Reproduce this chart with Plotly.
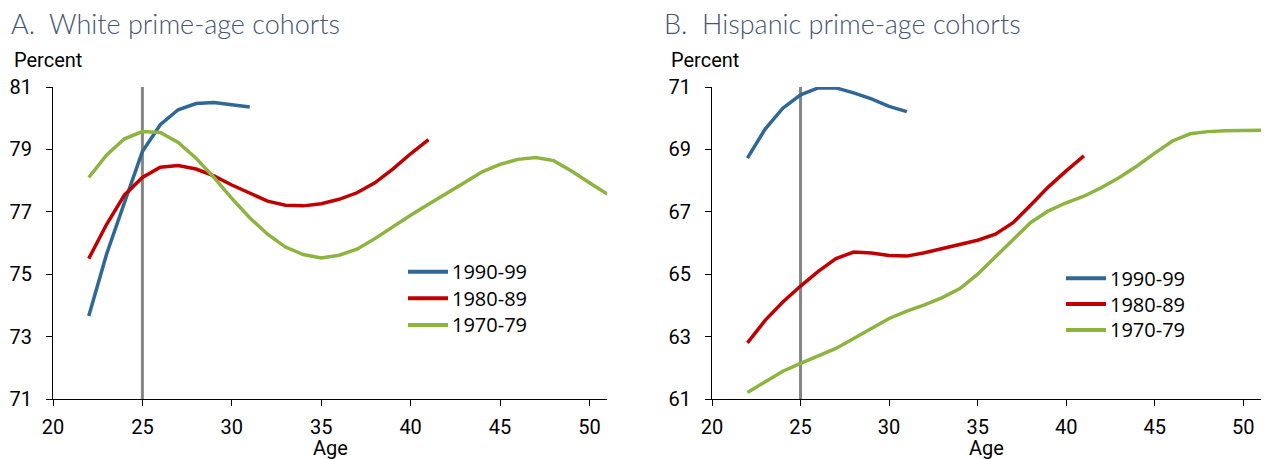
import plotly.graph_objects as go

# ---------------- data ----------------
series_names = ["1990-99", "1980-89", "1970-79"]
series_colors = ["#2f6796", "#c00000", "#8db43f"]

ages_1990 = list(range(22, 32))
ages_1980 = list(range(22, 42))
ages_1970 = list(range(22, 52))

white_1990 = [73.66, 75.65, 77.30, 78.93, 79.79, 80.27, 80.47, 80.50, 80.43, 80.36]
white_1980 = [75.50, 76.60, 77.54, 78.10, 78.43, 78.48, 78.37, 78.15, 77.86, 77.59,
              77.34, 77.21, 77.19, 77.26, 77.40, 77.61, 77.93, 78.37, 78.86, 79.31]
white_1970 = [78.10, 78.82, 79.34, 79.57, 79.54, 79.22, 78.72, 78.10, 77.43, 76.81,
              76.28, 75.87, 75.63, 75.52, 75.61, 75.80, 76.14, 76.52, 76.89, 77.24,
              77.57, 77.93, 78.28, 78.52, 78.68, 78.74, 78.64, 78.31, 77.93, 77.57]

hisp_1990 = [68.72, 69.65, 70.32, 70.75, 70.97, 70.97, 70.81, 70.62, 70.38, 70.21]
hisp_1980 = [62.80, 63.52, 64.11, 64.62, 65.09, 65.50, 65.71, 65.68, 65.60, 65.58,
             65.69, 65.82, 65.97, 66.09, 66.28, 66.65, 67.22, 67.80, 68.31, 68.79]
hisp_1970 = [61.21, 61.55, 61.89, 62.14, 62.38, 62.62, 62.94, 63.26, 63.58, 63.82,
             64.02, 64.25, 64.54, 65.00, 65.55, 66.09, 66.66, 67.03, 67.29, 67.50,
             67.78, 68.10, 68.47, 68.88, 69.27, 69.50, 69.57, 69.60, 69.60, 69.61]

marker_age = 25
x_ticks = [20, 25, 30, 35, 40, 45, 50]
white_yticks = [71, 73, 75, 77, 79, 81]
hisp_yticks = [61, 63, 65, 67, 69, 71]

panel_titles = ["A.  White prime-age cohorts", "B.  Hispanic prime-age cohorts"]

# ---------------- figure ----------------
W, H = 1267, 459
ML, MR, MT, MB = 53, 6, 87, 60
PW = W - ML - MR
PH = H - MT - MB

def px_x(p):
    return (p - ML) / PW

def px_y(p):
    return (H - MB - p) / PH

fig = go.Figure()

ages_list = [ages_1990, ages_1980, ages_1970]
white_list = [white_1990, white_1980, white_1970]
hisp_list = [hisp_1990, hisp_1980, hisp_1970]

for name, color, ages, vals in zip(series_names, series_colors, ages_list, white_list):
    fig.add_trace(go.Scatter(x=ages, y=vals, mode="lines", name=name,
                             line=dict(color=color, width=3.5),
                             xaxis="x", yaxis="y", showlegend=False))
for name, color, ages, vals in zip(series_names, series_colors, ages_list, hisp_list):
    fig.add_trace(go.Scatter(x=ages, y=vals, mode="lines", name=name,
                             line=dict(color=color, width=3.5),
                             xaxis="x2", yaxis="y2", showlegend=False))

tick_font = dict(family="Roboto, Arial, sans-serif", size=20, color="#000000")
common_x = dict(range=[20, 51], tickvals=x_ticks, ticks="outside", ticklen=6,
                tickcolor="#000000", showline=True, linecolor="#000000", linewidth=1,
                showgrid=False, zeroline=False, tickfont=tick_font,
                ticklabelstandoff=4)
common_y = dict(ticks="outside", ticklen=6, tickcolor="#000000",
                showline=True, linecolor="#000000", linewidth=1, showgrid=False,
                zeroline=False, tickfont=tick_font, ticklabelstandoff=10)

d1 = [0, px_x(607.3)]
d2 = [px_x(712), 1]

fig.update_layout(
    width=W, height=H,
    margin=dict(l=ML, r=MR, t=MT, b=MB),
    paper_bgcolor="white", plot_bgcolor="white",
    xaxis=dict(domain=d1, anchor="y", **common_x),
    yaxis=dict(domain=[0, 1], anchor="x", range=[71, 81], tickvals=white_yticks, **common_y),
    xaxis2=dict(domain=d2, anchor="y2", **common_x),
    yaxis2=dict(domain=[0, 1], anchor="x2", range=[61, 71], tickvals=hisp_yticks, **common_y),
    showlegend=False,
)

# vertical marker lines at age 25
fig.add_shape(type="line", xref="x", yref="y", x0=marker_age, x1=marker_age, y0=71, y1=81.23,
              line=dict(color="#858585", width=3), layer="below")
fig.add_shape(type="line", xref="x2", yref="y2", x0=marker_age, x1=marker_age, y0=61, y1=71.07,
              line=dict(color="#858585", width=3), layer="below")

# legends (one per panel): short line + label
legend_font = dict(family="Open Sans, sans-serif", size=20, color="#000000")
legend_specs = [  # (line start px, line end px, text start px, first row centre px, row step px)
    (408, 448, 451, 271.7, 26.6),
    (1066, 1106, 1109, 278.3, 25.8),
]
for lx0, lx1, tx, ly0, step in legend_specs:
    for i, (name, color) in enumerate(zip(series_names, series_colors)):
        yc = ly0 + i * step
        fig.add_shape(type="line", xref="paper", yref="paper",
                      x0=px_x(lx0), x1=px_x(lx1), y0=px_y(yc), y1=px_y(yc),
                      line=dict(color=color, width=4))
        fig.add_annotation(xref="paper", yref="paper", x=px_x(tx), y=px_y(yc), text=name,
                           xanchor="left", yanchor="middle", showarrow=False,
                           font=legend_font, borderpad=0)

title_font = dict(family="Lato, sans-serif", size=27, color="#46566f", weight=300)
label_font = dict(family="Roboto, Arial, sans-serif", size=20, color="#000000")

annos = [
    dict(text=panel_titles[0], x=px_x(9), y=px_y(23), font=title_font),
    dict(text=panel_titles[1], x=px_x(662), y=px_y(23), font=title_font),
    dict(text="Percent", x=px_x(12), y=px_y(60.3), font=label_font),
    dict(text="Percent", x=px_x(669), y=px_y(60.3), font=label_font),
]
for a in annos:
    fig.add_annotation(xref="paper", yref="paper", xanchor="left", yanchor="middle",
                       showarrow=False, **a)
fig.add_annotation(xref="paper", yref="paper", x=px_x(330.3), y=px_y(447.5), text="Age",
                   xanchor="center", yanchor="middle", showarrow=False, font=label_font,
                   borderpad=0)
fig.add_annotation(xref="paper", yref="paper", x=px_x(986.5), y=px_y(447.5), text="Age",
                   xanchor="center", yanchor="middle", showarrow=False, font=label_font,
                   borderpad=0)

fig.write_html("out.html", config={"displayModeBar": False},
               post_script="document.body.style.margin='0px';")
